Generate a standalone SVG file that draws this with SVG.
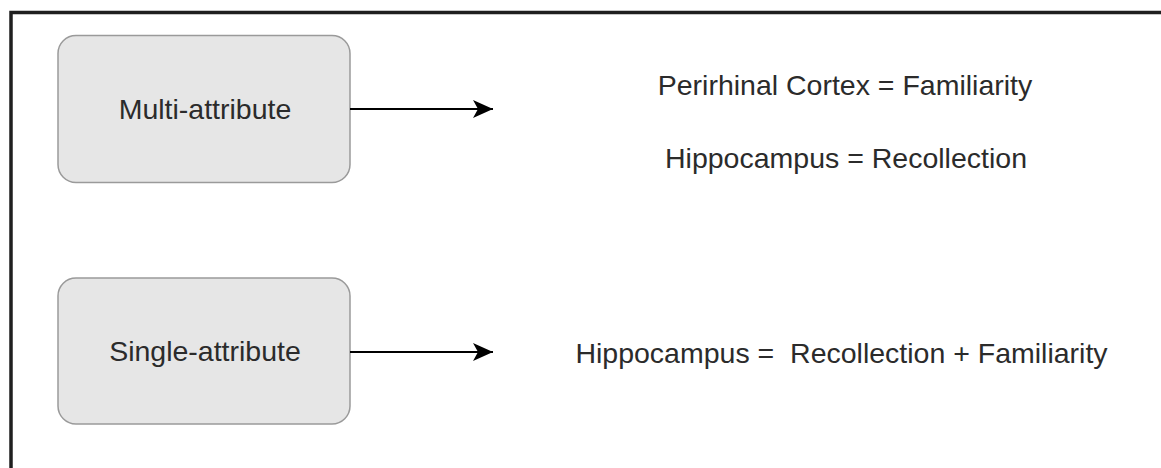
<svg xmlns="http://www.w3.org/2000/svg" width="1161" height="468" viewBox="0 0 1161 468">
  <style>
    .box { fill: #e6e6e6; stroke: #9a9a9a; stroke-width: 1.5; }
    .lbl { font-family: "Liberation Sans", Arial, sans-serif; font-size: 28.5px; fill: #2b2b2b; text-anchor: middle; }
    .edge { stroke: #000; stroke-width: 2; fill: none; }
    .head { fill: #000; stroke: none; }
  </style>
  <defs>
    <marker id="arrow" markerUnits="userSpaceOnUse" markerWidth="22" markerHeight="20" refX="20" refY="9" orient="auto" viewBox="0 0 22 20">
      <path class="head" d="M20,9 L0,0 L5,9 L0,18 Z"/>
    </marker>
  </defs>
  <rect x="0" y="0" width="1161" height="468" fill="#ffffff"/>
  <path d="M11,468 V12.5 H1161" fill="none" stroke="#1f1f1f" stroke-width="3.5"/>

  <g id="multi-attribute">
    <rect class="box" x="58" y="35.5" width="292" height="147" rx="18" ry="18"/>
    <text class="lbl" x="205" y="119">Multi-attribute</text>
  </g>
  <g id="single-attribute">
    <rect class="box" x="58" y="278" width="292" height="146" rx="18" ry="18"/>
    <text class="lbl" x="205" y="361">Single-attribute</text>
  </g>
  <g id="multi-result">
    <text class="lbl" x="845" y="95">Perirhinal Cortex = Familiarity</text>
    <text class="lbl" x="846" y="168">Hippocampus = Recollection</text>
  </g>
  <g id="single-result">
    <text class="lbl" x="841.5" y="363" xml:space="preserve">Hippocampus =  Recollection + Familiarity</text>
  </g>
  <g id="connectors">
    <line class="edge" x1="350" y1="109" x2="493" y2="109" marker-end="url(#arrow)"/>
    <line class="edge" x1="350" y1="352" x2="493" y2="352" marker-end="url(#arrow)"/>
  </g>
</svg>
